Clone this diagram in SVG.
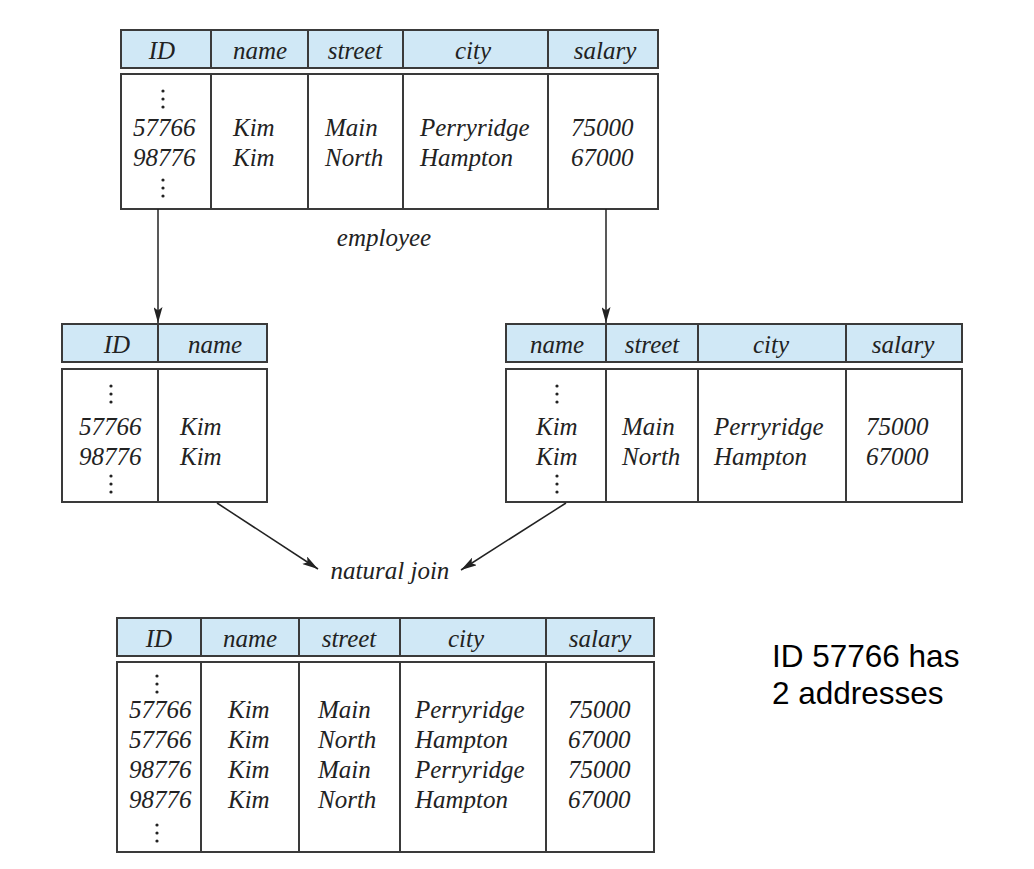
<svg xmlns="http://www.w3.org/2000/svg" width="1034" height="869" viewBox="0 0 1034 869">
<defs>
<style>
.hd{fill:#d0e8f6;stroke:#3a3a3a;stroke-width:2}
.bd{fill:#fff;stroke:#3a3a3a;stroke-width:2}
.ln{stroke:#3a3a3a;stroke-width:2;fill:none}
.t{font-family:"Liberation Serif",serif;font-style:italic;font-size:25px;fill:#222}
.c{text-anchor:middle}
.dot{fill:#222}
.conn{stroke:#222;stroke-width:1.5;fill:none;marker-end:url(#ah)}
.note{font-family:"Liberation Sans",Arial,sans-serif;font-size:31.5px;fill:#000}
</style>
<marker id="ah" viewBox="0 0 16 9" refX="16" refY="4.5" markerWidth="16" markerHeight="9" markerUnits="userSpaceOnUse" orient="auto">
<path d="M0,0 L16,4.5 L0,9 L3.5,4.5 Z" fill="#222"/>
</marker>
</defs>
<rect width="1034" height="869" fill="#fff"/>

<g id="employee">
<rect class="hd" x="121" y="30" width="537" height="38"/>
<line class="ln" x1="211" y1="30" x2="211" y2="68"/><line class="ln" x1="308" y1="30" x2="308" y2="68"/><line class="ln" x1="403" y1="30" x2="403" y2="68"/><line class="ln" x1="548" y1="30" x2="548" y2="68"/>
<rect class="bd" x="121" y="74" width="537" height="135"/>
<line class="ln" x1="211" y1="74" x2="211" y2="209"/><line class="ln" x1="308" y1="74" x2="308" y2="209"/><line class="ln" x1="403" y1="74" x2="403" y2="209"/><line class="ln" x1="548" y1="74" x2="548" y2="209"/>
<text class="t c" x="162" y="59">ID</text><text class="t c" x="260" y="59">name</text><text class="t c" x="355" y="59">street</text><text class="t c" x="473" y="59">city</text><text class="t c" x="605" y="59">salary</text>
<circle class="dot" cx="163" cy="91" r="1.6"/><circle class="dot" cx="163" cy="99" r="1.6"/><circle class="dot" cx="163" cy="107" r="1.6"/>
<circle class="dot" cx="163" cy="180" r="1.6"/><circle class="dot" cx="163" cy="188" r="1.6"/><circle class="dot" cx="163" cy="196" r="1.6"/>
<text class="t" x="133" y="136">57766</text><text class="t" x="133" y="166">98776</text>
<text class="t" x="233" y="136">Kim</text><text class="t" x="233" y="166">Kim</text>
<text class="t" x="325" y="136">Main</text><text class="t" x="325" y="166">North</text>
<text class="t" x="420" y="136">Perryridge</text><text class="t" x="420" y="166">Hampton</text>
<text class="t" x="571" y="136">75000</text><text class="t" x="571" y="166">67000</text>
<text class="t c" x="384" y="246">employee</text>
</g>

<g id="proj-id-name">
<rect class="hd" x="62" y="324" width="205" height="38"/>
<line class="ln" x1="158" y1="324" x2="158" y2="362"/>
<rect class="bd" x="62" y="369" width="205" height="133"/>
<line class="ln" x1="158" y1="369" x2="158" y2="502"/>
<text class="t c" x="117" y="353">ID</text><text class="t c" x="215" y="353">name</text>
<circle class="dot" cx="111" cy="386" r="1.6"/><circle class="dot" cx="111" cy="394" r="1.6"/><circle class="dot" cx="111" cy="402" r="1.6"/>
<circle class="dot" cx="111" cy="476" r="1.6"/><circle class="dot" cx="111" cy="484" r="1.6"/><circle class="dot" cx="111" cy="492" r="1.6"/>
<text class="t" x="79" y="435">57766</text><text class="t" x="79" y="465">98776</text>
<text class="t" x="180" y="435">Kim</text><text class="t" x="180" y="465">Kim</text>
</g>

<g id="proj-name-address">
<rect class="hd" x="506" y="324" width="456" height="38"/>
<line class="ln" x1="606" y1="324" x2="606" y2="362"/><line class="ln" x1="698" y1="324" x2="698" y2="362"/><line class="ln" x1="846" y1="324" x2="846" y2="362"/>
<rect class="bd" x="506" y="369" width="456" height="133"/>
<line class="ln" x1="606" y1="369" x2="606" y2="502"/><line class="ln" x1="698" y1="369" x2="698" y2="502"/><line class="ln" x1="846" y1="369" x2="846" y2="502"/>
<text class="t c" x="557" y="353">name</text><text class="t c" x="652" y="353">street</text><text class="t c" x="771" y="353">city</text><text class="t c" x="903" y="353">salary</text>
<circle class="dot" cx="557" cy="386" r="1.6"/><circle class="dot" cx="557" cy="394" r="1.6"/><circle class="dot" cx="557" cy="402" r="1.6"/>
<circle class="dot" cx="557" cy="476" r="1.6"/><circle class="dot" cx="557" cy="484" r="1.6"/><circle class="dot" cx="557" cy="492" r="1.6"/>
<text class="t" x="536" y="435">Kim</text><text class="t" x="536" y="465">Kim</text>
<text class="t" x="622" y="435">Main</text><text class="t" x="622" y="465">North</text>
<text class="t" x="714" y="435">Perryridge</text><text class="t" x="714" y="465">Hampton</text>
<text class="t" x="866" y="435">75000</text><text class="t" x="866" y="465">67000</text>
</g>

<g id="join-label">
<text class="t c" x="390" y="579">natural join</text>
</g>

<g id="result">
<rect class="hd" x="117" y="618" width="537" height="38"/>
<line class="ln" x1="201" y1="618" x2="201" y2="656"/><line class="ln" x1="299" y1="618" x2="299" y2="656"/><line class="ln" x1="400" y1="618" x2="400" y2="656"/><line class="ln" x1="546" y1="618" x2="546" y2="656"/>
<rect class="bd" x="117" y="662" width="537" height="190"/>
<line class="ln" x1="201" y1="662" x2="201" y2="852"/><line class="ln" x1="299" y1="662" x2="299" y2="852"/><line class="ln" x1="400" y1="662" x2="400" y2="852"/><line class="ln" x1="546" y1="662" x2="546" y2="852"/>
<text class="t c" x="159" y="647">ID</text><text class="t c" x="250" y="647">name</text><text class="t c" x="349" y="647">street</text><text class="t c" x="466" y="647">city</text><text class="t c" x="600" y="647">salary</text>
<circle class="dot" cx="157" cy="676" r="1.6"/><circle class="dot" cx="157" cy="684" r="1.6"/><circle class="dot" cx="157" cy="692" r="1.6"/>
<circle class="dot" cx="157" cy="825" r="1.6"/><circle class="dot" cx="157" cy="833" r="1.6"/><circle class="dot" cx="157" cy="841" r="1.6"/>
<text class="t" x="129" y="718">57766</text><text class="t" x="129" y="748">57766</text><text class="t" x="129" y="778">98776</text><text class="t" x="129" y="808">98776</text>
<text class="t" x="228" y="718">Kim</text><text class="t" x="228" y="748">Kim</text><text class="t" x="228" y="778">Kim</text><text class="t" x="228" y="808">Kim</text>
<text class="t" x="318" y="718">Main</text><text class="t" x="318" y="748">North</text><text class="t" x="318" y="778">Main</text><text class="t" x="318" y="808">North</text>
<text class="t" x="415" y="718">Perryridge</text><text class="t" x="415" y="748">Hampton</text><text class="t" x="415" y="778">Perryridge</text><text class="t" x="415" y="808">Hampton</text>
<text class="t" x="568" y="718">75000</text><text class="t" x="568" y="748">67000</text><text class="t" x="568" y="778">75000</text><text class="t" x="568" y="808">67000</text>
</g>

<g id="note">
<text class="note" x="772" y="667">ID 57766 has</text>
<text class="note" x="772" y="704">2 addresses</text>
</g>

<g id="connectors">
<line class="conn" x1="158" y1="209" x2="158" y2="323"/>
<line class="conn" x1="606" y1="209" x2="606" y2="323"/>
<line class="conn" x1="217" y1="503" x2="318" y2="569"/>
<line class="conn" x1="566" y1="503" x2="461" y2="570"/>
</g>
</svg>
